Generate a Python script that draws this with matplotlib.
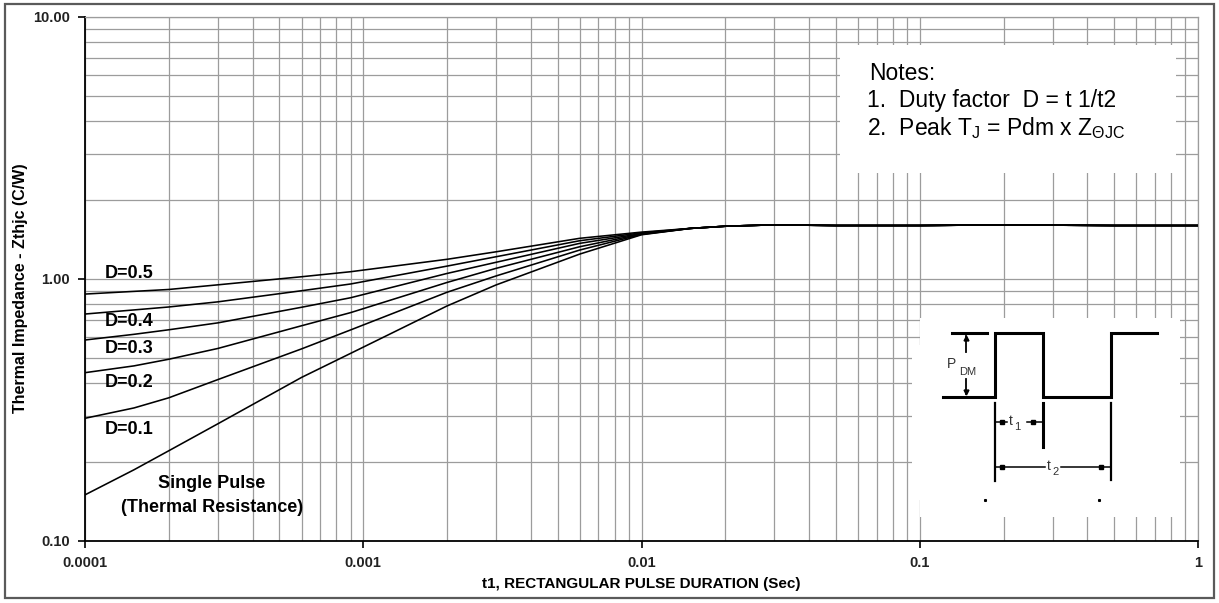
import numpy as np
import matplotlib.pyplot as plt
from matplotlib.patches import Rectangle
from matplotlib.lines import Line2D
from matplotlib.transforms import Affine2D
from matplotlib.ticker import FixedLocator, NullFormatter

plt.rcParams["font.family"] = ["Liberation Sans", "DejaVu Sans"]
plt.rcParams["mathtext.fontset"] = "custom"
plt.rcParams["mathtext.rm"] = "Liberation Sans"
plt.rcParams["mathtext.it"] = "Liberation Sans:italic"
plt.rcParams["mathtext.bf"] = "Liberation Sans:bold"

W, H = 1219, 603

# pulse duration (s)
t_head = [1e-4, 1.5e-4, 2e-4, 3e-4, 6e-4, 9e-4, 2e-3, 3e-3, 6e-3, 1e-2]
t_tail = [0.015, 0.02, 0.03, 0.05, 0.1, 0.2, 0.5, 1.0]
z_tail = [1.56, 1.59, 1.61, 1.60, 1.60, 1.61, 1.60, 1.60]

# Zthjc (C/W) per duty factor, head part of each curve
z_d05 = [0.876, 0.897, 0.912, 0.950, 1.020, 1.066, 1.189, 1.270, 1.430, 1.510]
z_d04 = [0.735, 0.762, 0.782, 0.818, 0.902, 0.957, 1.120, 1.216, 1.400, 1.500]
z_d03 = [0.585, 0.615, 0.640, 0.680, 0.780, 0.848, 1.050, 1.158, 1.368, 1.490]
z_d02 = [0.439, 0.466, 0.494, 0.543, 0.663, 0.744, 0.970, 1.098, 1.328, 1.485]
z_d01 = [0.294, 0.322, 0.352, 0.413, 0.541, 0.639, 0.890, 1.027, 1.290, 1.480]
z_single = [0.150, 0.187, 0.221, 0.280, 0.421, 0.520, 0.789, 0.949, 1.245, 1.475]

curves = [z_d05, z_d04, z_d03, z_d02, z_d01, z_single]

curve_labels = ["D=0.5", "D=0.4", "D=0.3", "D=0.2", "D=0.1"]
label_y = [1.045, 0.687, 0.545, 0.401, 0.266]

x_ticks = [0.0001, 0.001, 0.01, 0.1, 1]
x_tick_labels = ["0.0001", "0.001", "0.01", "0.1", "1"]
y_ticks = [0.1, 1, 10]
y_tick_labels = ["0.10", "1.00", "10.00"]

fig = plt.figure(figsize=(W / 100, H / 100), dpi=100)
ax = fig.add_axes([85 / W, 1 - 541 / H, (1198 - 85) / W, (541 - 17) / H])

ax.set_xscale("log")
ax.set_yscale("log")
ax.set_xlim(1e-4, 1)
ax.set_ylim(0.1, 10)

minor_x = [m * 10.0 ** e for e in range(-4, 0) for m in range(2, 10)]
minor_y = [m * 10.0 ** e for e in range(-1, 1) for m in range(2, 10)]
ax.xaxis.set_major_locator(FixedLocator(x_ticks))
ax.yaxis.set_major_locator(FixedLocator(y_ticks))
ax.xaxis.set_minor_locator(FixedLocator(minor_x))
ax.yaxis.set_minor_locator(FixedLocator(minor_y))
ax.xaxis.set_minor_formatter(NullFormatter())
ax.yaxis.set_minor_formatter(NullFormatter())
ax.set_xticklabels(x_tick_labels, fontsize=10.5, fontweight="bold", color="#222222")
ax.set_yticklabels(y_tick_labels, fontsize=10.5, fontweight="bold", color="#222222")
ax.tick_params(which="major", direction="out", length=5, width=1.2, color="black", pad=6)
ax.tick_params(which="minor", length=0)

ax.grid(True, which="both", color="#9c9c9c", lw=0.9)
ax.set_axisbelow(True)
for side in ["left", "bottom"]:
    ax.spines[side].set_color("black")
    ax.spines[side].set_linewidth(1.3)
for side in ["top", "right"]:
    ax.spines[side].set_color("#9c9c9c")
    ax.spines[side].set_linewidth(0.9)

for z in curves:
    ax.plot(t_head + t_tail, z + z_tail, color="black", lw=1.15, zorder=3)

for lab, yv in zip(curve_labels, label_y):
    ax.text(1.18e-4, yv, lab, fontsize=13, fontweight="bold", va="center", ha="left", zorder=4)
ax.text(2.86e-4, 0.166, "Single Pulse", fontsize=13, fontweight="bold", ha="center", va="center", zorder=4)
ax.text(2.86e-4, 0.1337, "(Thermal Resistance)", fontsize=13, fontweight="bold", ha="center", va="center", zorder=4)

ax.set_xlabel("t1, RECTANGULAR PULSE DURATION (Sec)", fontsize=11, fontweight="bold")
ax.xaxis.set_label_coords(0.5, -(584 - 541) / 524)
ax.xaxis.label.set_va("center")
ax.set_ylabel("Thermal Impedance - Zthjc (C/W)", fontsize=11.5, fontweight="bold")
ax.yaxis.set_label_coords(-(85 - 21) / 1113, (541 - 288) / 524)
ax.yaxis.label.set_va("center")

# pixel coordinates (origin top-left) for the decorations
px = Affine2D().scale(1 / W, -1 / H).translate(0, 1) + fig.transFigure

fig.add_artist(Rectangle((5, 4), 1209, 594, transform=px, fill=False, edgecolor="#5a5a5a", lw=1.6))

# notes box
fig.add_artist(Rectangle((840, 45), 336, 128, transform=px, facecolor="white", edgecolor="none", zorder=5))
fig.text(869, 80, "Notes:", transform=px, fontsize=16.5, zorder=6)
fig.text(867, 107.5, "1.  Duty factor  D = t 1/t2", transform=px, fontsize=16.5, zorder=6)
fig.text(867, 135, r"2.  Peak T$_{\mathrm{J}}$ = Pdm x Z$_{\Theta\mathrm{JC}}$", transform=px, fontsize=16.5, zorder=6)

# pulse sketch box
fig.add_artist(Rectangle((920, 318), 260, 199, transform=px, facecolor="white", edgecolor="none", zorder=5))
fig.add_artist(Rectangle((912, 345), 268, 155, transform=px, facecolor="white", edgecolor="none", zorder=5))


def seg(xs, ys, lw=1.5, **kw):
    fig.add_artist(Line2D(xs, ys, transform=px, color="black", lw=lw, zorder=7, **kw))


seg([952, 987], [333, 333], lw=2.2)
seg([943, 995, 995, 1043, 1043, 1111, 1111, 1157], [397, 397, 333, 333, 397, 397, 333, 333], lw=2.2,
    solid_joinstyle="miter")
seg([995, 995], [403, 481], lw=1.6)
seg([1043, 1043], [403, 447], lw=2.2)
seg([1111, 1111], [403, 480], lw=1.6)

# PDM arrows
seg([966, 966], [336, 352], lw=1.3)
seg([966, 966], [379, 394], lw=1.3)
seg([966], [338], lw=0, marker="^", ms=3.5)
seg([966], [392], lw=0, marker="v", ms=3.5)
fig.text(947, 364, "P", transform=px, fontsize=10, color="#333333", va="center", zorder=7)
fig.text(959, 372, "DM", transform=px, fontsize=8, color="#333333", va="center", zorder=7)

# t1 / t2 dimensions
seg([996, 1007], [422, 422], lw=1.1)
seg([1027, 1042], [422, 422], lw=1.1)
seg([1002, 1033], [422, 422], lw=0, marker="s", ms=2.5)
fig.text(1009, 421, "t", transform=px, fontsize=10, color="#333333", va="center", zorder=7)
fig.text(1014.5, 427, "1", transform=px, fontsize=8, color="#333333", va="center", zorder=7)
seg([996, 1045], [467, 467], lw=1.1)
seg([1061, 1110], [467, 467], lw=1.1)
seg([1002, 1101], [467, 467], lw=0, marker="s", ms=2.5)
fig.text(1047, 466, "t", transform=px, fontsize=10, color="#333333", va="center", zorder=7)
fig.text(1052.5, 472, "2", transform=px, fontsize=8, color="#333333", va="center", zorder=7)
seg([985, 1099], [500, 500], lw=0, marker="s", ms=1.2)

fig.savefig("out.png", dpi=100)
